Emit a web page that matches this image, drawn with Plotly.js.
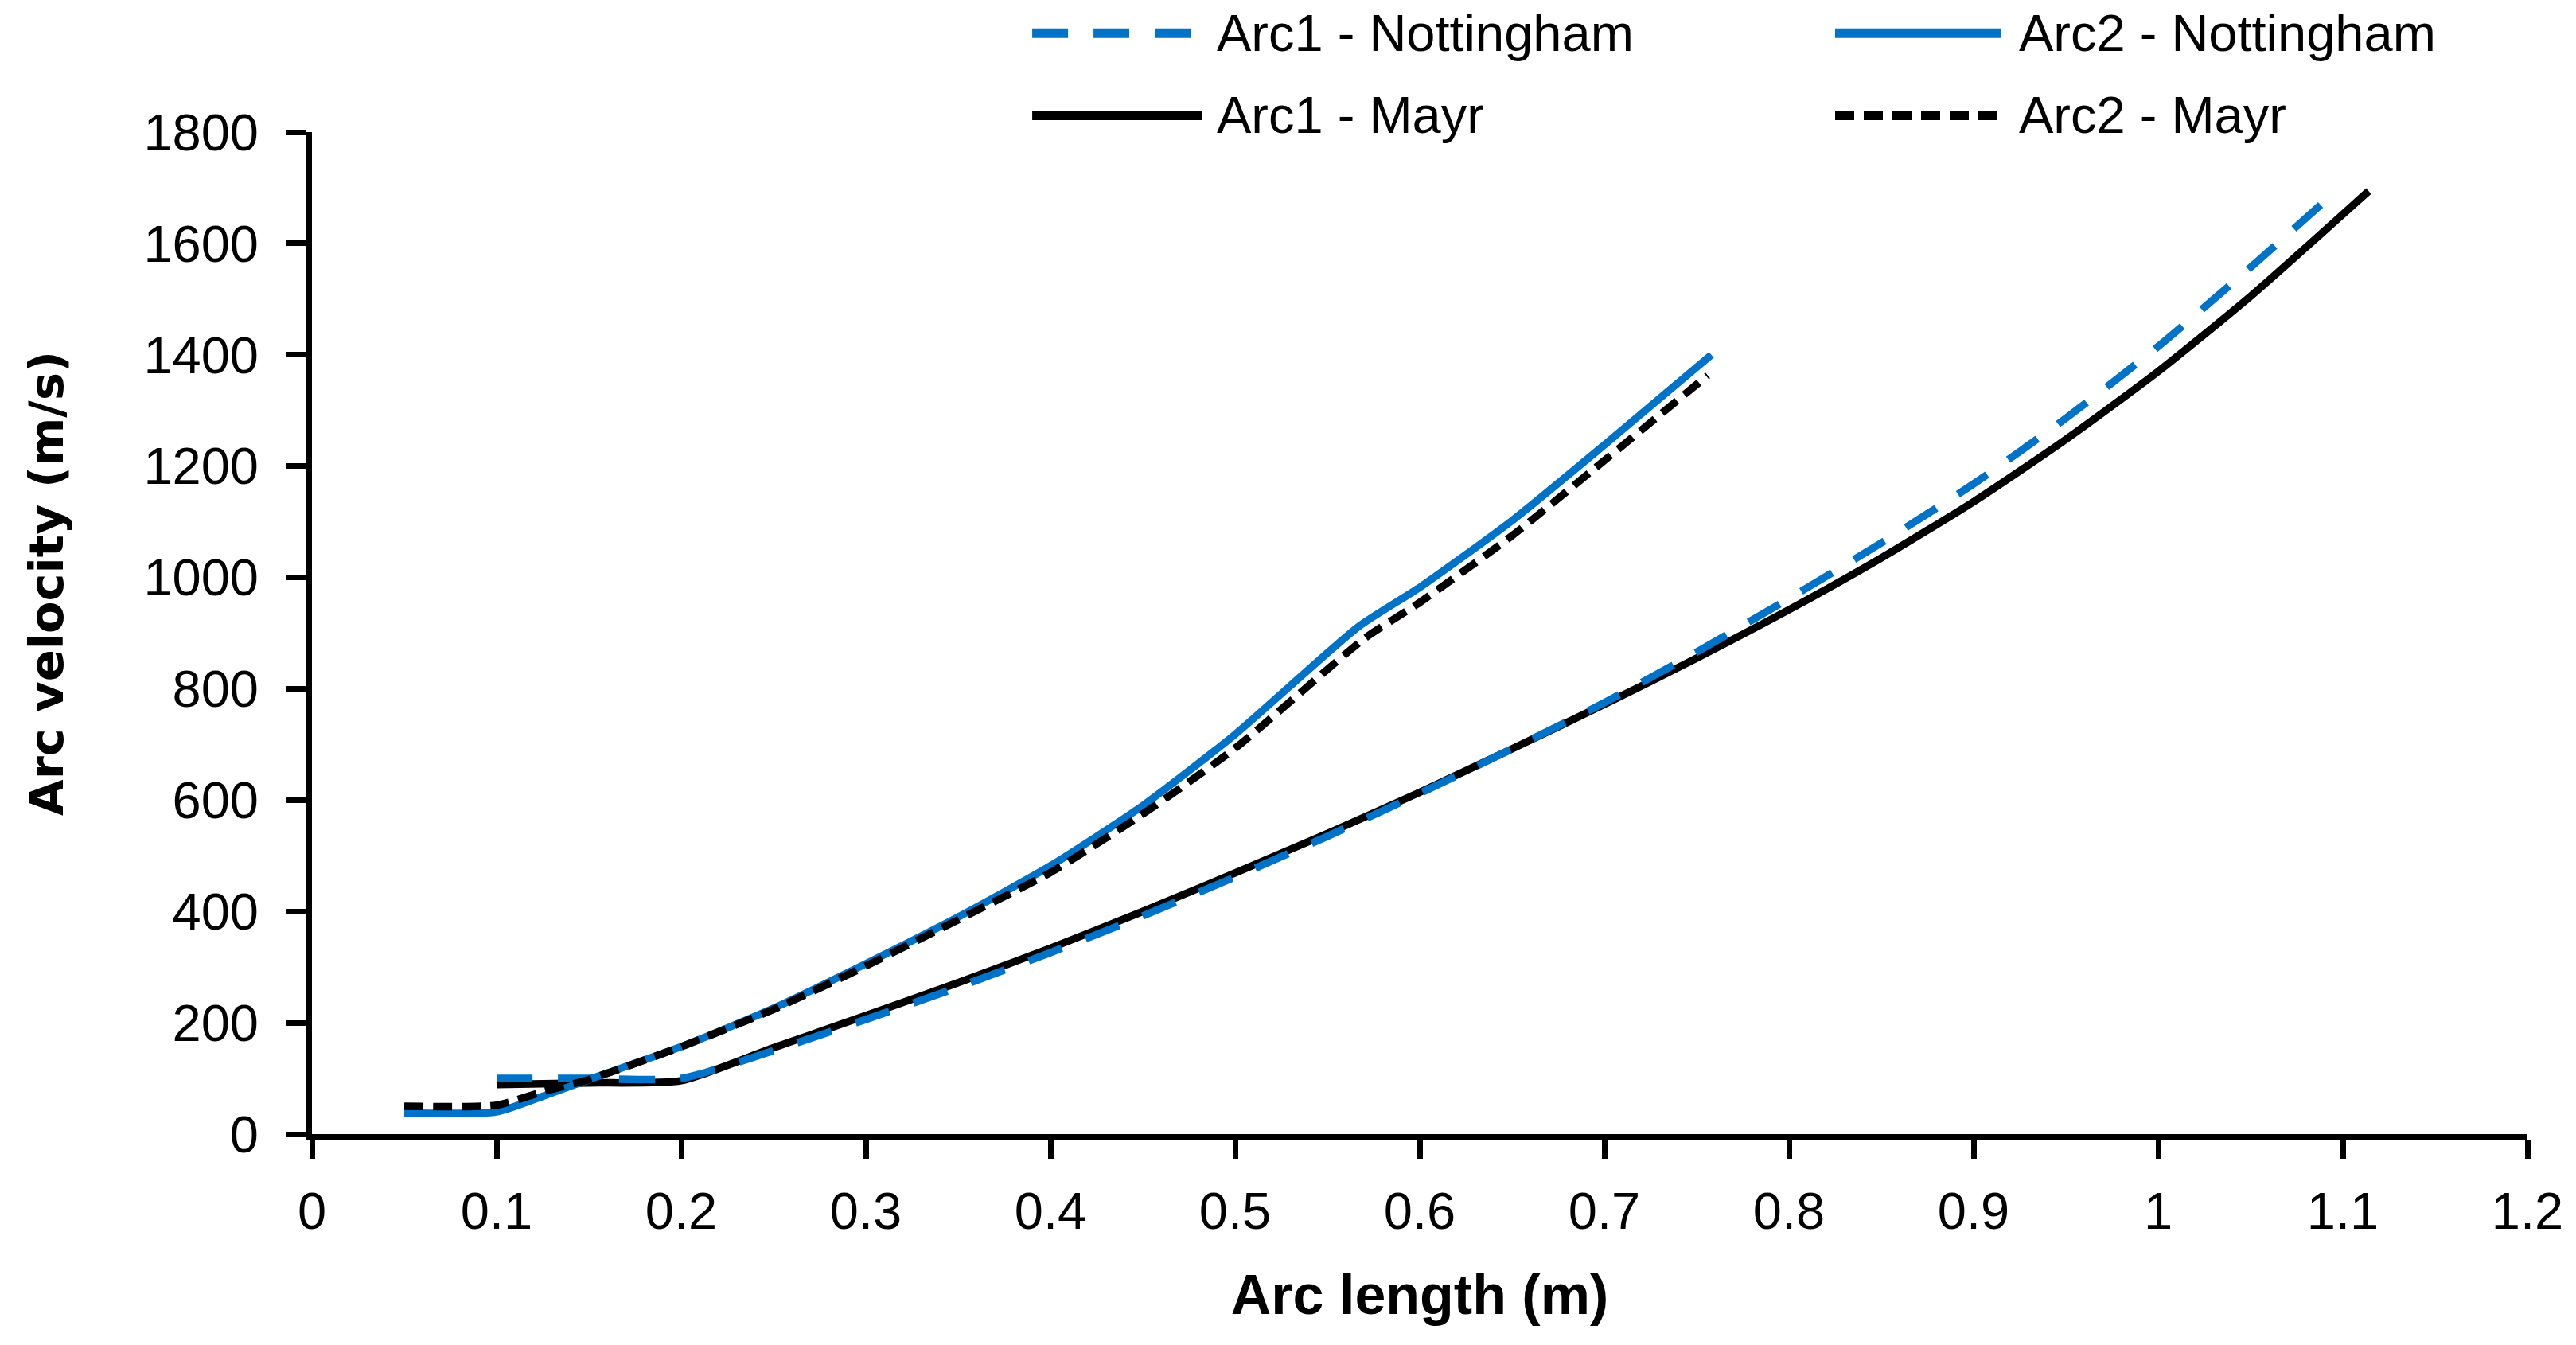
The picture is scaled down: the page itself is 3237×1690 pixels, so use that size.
<!DOCTYPE html>
<html>
<head>
<meta charset="utf-8">
<script src="https://cdn.plot.ly/plotly-3.0.1.min.js"></script>
<style>html,body{margin:0;padding:0;background:#fff;}#chart{width:3237px;height:1690px;}</style>
</head>
<body>
<div id="chart"></div>
<script>
// ---- data ----
const seriesNames = ["Arc1 - Nottingham", "Arc2 - Nottingham", "Arc1 - Mayr", "Arc2 - Mayr"];

const arc1NottX = [0.1, 0.15, 0.2, 0.25, 0.3, 0.35, 0.4, 0.45, 0.5, 0.55, 0.6, 0.65, 0.7, 0.75, 0.8, 0.85, 0.9, 0.95, 1.0, 1.05, 1.096];
const arc1NottY = [100, 100, 100, 150, 206, 264, 326, 392, 462, 535, 612, 692, 775, 866, 962, 1062, 1168, 1286, 1415, 1557, 1693];

const arc2NottX = [0.05, 0.1, 0.125, 0.15, 0.2, 0.25, 0.3, 0.35, 0.4, 0.45, 0.5, 0.567, 0.6, 0.65, 0.7, 0.758];
const arc2NottY = [38, 40, 68, 98, 157, 226, 306, 390, 482, 590, 718, 912, 982, 1102, 1238, 1400];

const arc1MayrX = [0.1, 0.15, 0.2, 0.25, 0.3, 0.35, 0.4, 0.45, 0.5, 0.55, 0.6, 0.65, 0.7, 0.75, 0.8, 0.85, 0.9, 0.95, 1.0, 1.05, 1.114];
const arc1MayrY = [89, 92, 96, 155, 213, 272, 334, 400, 469, 540, 614, 692, 772, 855, 942, 1035, 1136, 1248, 1370, 1505, 1694];

const arc2MayrX = [0.05, 0.1, 0.125, 0.15, 0.2, 0.25, 0.3, 0.35, 0.4, 0.45, 0.5, 0.57, 0.6, 0.65, 0.7, 0.756];
const arc2MayrY = [50, 52, 76, 98, 157, 224, 302, 385, 470, 575, 693, 890, 955, 1075, 1210, 1363];

const xTickVals = [0, 0.1, 0.2, 0.3, 0.4, 0.5, 0.6, 0.7, 0.8, 0.9, 1, 1.1, 1.2];
const xTickText = ["0", "0.1", "0.2", "0.3", "0.4", "0.5", "0.6", "0.7", "0.8", "0.9", "1", "1.1", "1.2"];
const yTickVals = [0, 200, 400, 600, 800, 1000, 1200, 1400, 1600, 1800];
const yTickText = ["0", "200", "400", "600", "800", "1000", "1200", "1400", "1600", "1800"];

const xTitle = "Arc length (m)";
const yTitle = "Arc velocity (m/s)";

// ---- styles ----
const BLUE = "#0073C8";
const BLACK = "#000000";
const styles = [
  {color: BLUE, dash: "45px,32px"},
  {color: BLUE, dash: "solid"},
  {color: BLACK, dash: "solid"},
  {color: BLACK, dash: "24px,12px"}
];
const xs = [arc1NottX, arc2NottX, arc1MayrX, arc2MayrX];
const ys = [arc1NottY, arc2NottY, arc1MayrY, arc2MayrY];
// draw order: Arc1 Mayr, Arc1 Nott, Arc2 Nott, Arc2 Mayr
const order = [2, 0, 1, 3];

const traces = order.map(i => ({
  type: "scatter", mode: "lines", name: seriesNames[i],
  x: xs[i], y: ys[i], showlegend: false,
  line: {color: styles[i].color, dash: styles[i].dash, width: 9.5, shape: "spline", smoothing: 0.6},
  xaxis: "x", yaxis: "y"
}));

const FONT = "Liberation Sans, Arial, sans-serif";

// custom legend (two columns x two rows) in paper coordinates
const legCols = [[0.3251, 0.4016, 0.4077], [0.6875, 0.7622, 0.7698]];
const legRows = [1.0987, 1.0167];
const legPos = [[0, 0], [1, 0], [0, 1], [1, 1]]; // [col,row] per series index
const shapes = [];
const annotations = [];
seriesNames.forEach((nm, i) => {
  const c = legCols[legPos[i][0]], r = legRows[legPos[i][1]];
  shapes.push({type: "line", xref: "paper", yref: "paper", x0: c[0], x1: c[1], y0: r, y1: r,
    line: {color: styles[i].color, width: 12, dash: styles[i].dash}});
  annotations.push({xref: "paper", yref: "paper", x: c[2], y: r, xanchor: "left", yanchor: "middle",
    text: nm, showarrow: false, font: {family: FONT, size: 65, color: "#000"}});
});
// y-axis title (placed as in the reference, slightly above the plot centre)
annotations.push({xref: "paper", yref: "paper", x: -0.12, y: 0.5496, xanchor: "center", yanchor: "middle",
  textangle: -90, text: yTitle, showarrow: false,
  font: {family: "'DejaVu Sans', Verdana, sans-serif", size: 59, color: "#000", weight: "bold"}});

const layout = {
  width: 3237, height: 1690,
  margin: {l: 392, r: 61, t: 166, b: 265},
  paper_bgcolor: "#fff", plot_bgcolor: "#fff",
  showlegend: false,
  xaxis: {
    range: [0, 1.2], tickmode: "array", tickvals: xTickVals, ticktext: xTickText,
    ticks: "outside", ticklen: 23, tickwidth: 7, tickcolor: "#000",
    showline: true, linewidth: 8, linecolor: "#000", showgrid: false, zeroline: false,
    tickfont: {family: FONT, size: 65, color: "#000"}, ticklabelstandoff: 10,
    title: {text: xTitle, standoff: 48, font: {family: FONT, size: 70, color: "#000", weight: "bold"}}
  },
  yaxis: {
    range: [0, 1800], tickmode: "array", tickvals: yTickVals, ticktext: yTickText,
    ticks: "outside", ticklen: 24, tickwidth: 7, tickcolor: "#000",
    showline: true, linewidth: 8, linecolor: "#000", showgrid: false, zeroline: false,
    tickfont: {family: FONT, size: 65, color: "#000"}, ticklabelstandoff: 22
  },
  xaxis2: {
    overlaying: "x", anchor: "y", side: "bottom", range: [0, 1.2], tickmode: "array", tickvals: xTickVals,
    ticks: "inside", ticklen: 22, tickwidth: 7, tickcolor: "#000", showticklabels: false,
    showline: false, showgrid: false, zeroline: false
  },
  yaxis2: {
    overlaying: "y", anchor: "x", side: "left", range: [0, 1800], tickmode: "array", tickvals: yTickVals,
    ticks: "inside", ticklen: 24, tickwidth: 7, tickcolor: "#000", showticklabels: false,
    showline: false, showgrid: false, zeroline: false
  },
  shapes: shapes,
  annotations: annotations
};

Plotly.newPlot("chart", traces, layout, {staticPlot: true, displayModeBar: false});
</script>
</body>
</html>
